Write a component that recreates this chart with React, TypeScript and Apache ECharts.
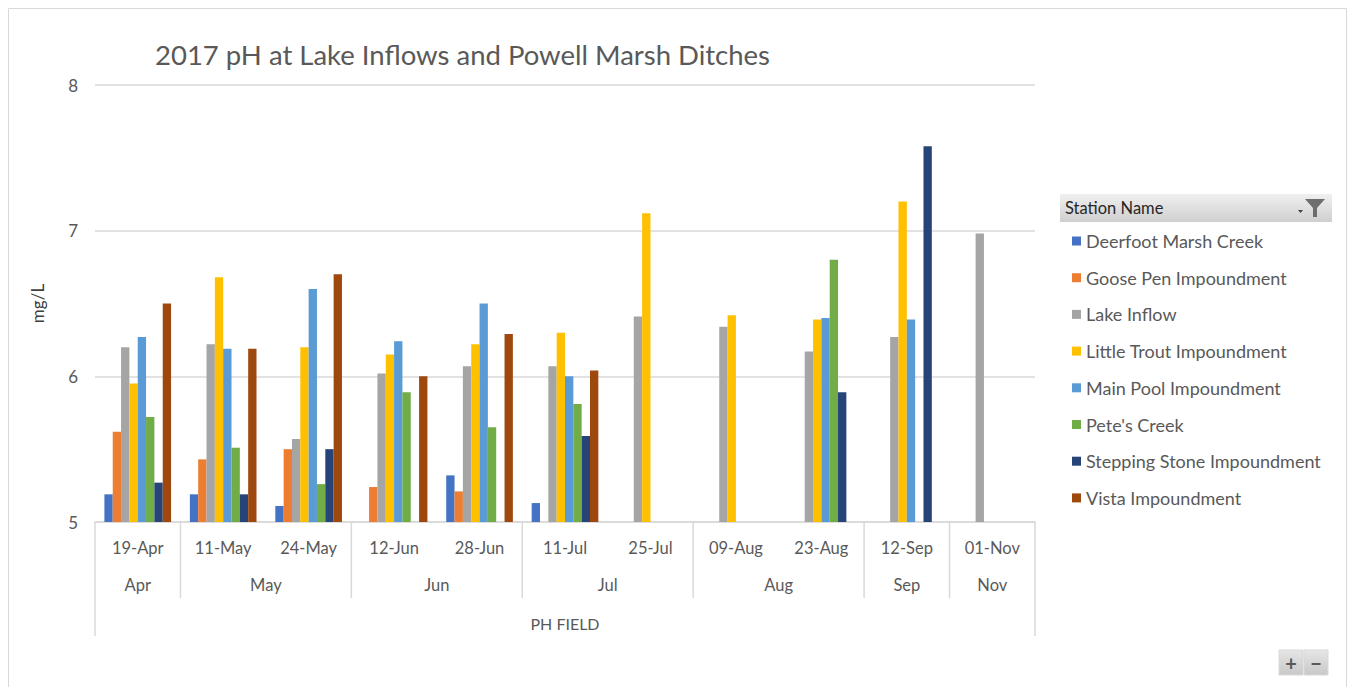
import React, { useEffect, useRef } from "react";
import * as echarts from "echarts";

const dates = ["19-Apr", "11-May", "24-May", "12-Jun", "28-Jun", "11-Jul", "25-Jul", "09-Aug", "23-Aug", "12-Sep", "01-Nov"];
const monthOfDate = ["Apr", "May", "May", "Jun", "Jun", "Jul", "Jul", "Aug", "Aug", "Sep", "Nov"];
const stations = [
  "Deerfoot Marsh Creek",
  "Goose Pen Impoundment",
  "Lake Inflow",
  "Little Trout Impoundment",
  "Main Pool Impoundment",
  "Pete's Creek",
  "Stepping Stone Impoundment",
  "Vista Impoundment",
];
const colors = ["#4472C4", "#ED7D31", "#A5A5A5", "#FFC000", "#5B9BD5", "#70AD47", "#264478", "#9E480E"];

const deerfoot = [5.19, 5.19, 5.11, null, 5.32, 5.13, null, null, null, null, null];
const goosePen = [5.62, 5.43, 5.5, 5.24, 5.21, null, null, null, null, null, null];
const lakeInflow = [6.2, 6.22, 5.57, 6.02, 6.07, 6.07, 6.41, 6.34, 6.17, 6.27, 6.98];
const littleTrout = [5.95, 6.68, 6.2, 6.15, 6.22, 6.3, 7.12, 6.42, 6.39, 7.2, null];
const mainPool = [6.27, 6.19, 6.6, 6.24, 6.5, 6.0, null, null, 6.4, 6.39, null];
const petesCreek = [5.72, 5.51, 5.26, 5.89, 5.65, 5.81, null, null, 6.8, null, null];
const steppingStone = [5.27, 5.19, 5.5, null, null, 5.59, null, null, 5.89, 7.58, null];
const vista = [6.5, 6.19, 6.7, 6.0, 6.29, 6.04, null, null, null, null, null];

const seriesValues = [deerfoot, goosePen, lakeInflow, littleTrout, mainPool, petesCreek, steppingStone, vista];

const FONT = "Lato, 'Open Sans', sans-serif";
const TXT = "#595959";
const LINE = "#d9d9d9";

export default function App() {
  const ref = useRef<HTMLDivElement>(null);
  useEffect(() => {
    if (!ref.current) return;
    const chart = echarts.init(ref.current, undefined, { renderer: "svg" });
    const gridTop = 85;
    const gridBottomY = 522;
    const option: any = {
      animation: false,
      backgroundColor: "#ffffff",
      textStyle: { fontFamily: FONT },
      title: {
        text: "2017 pH at Lake Inflows and Powell Marsh Ditches",
        left: 150,
        top: 35,
        textStyle: { fontFamily: FONT, fontSize: 27.5, fontWeight: "normal", color: TXT },
      },
      grid: { left: 95, right: 315, top: gridTop, bottom: 687 - gridBottomY },
      legend: {
        orient: "vertical",
        left: 1067,
        top: 226,
        itemWidth: 9,
        itemHeight: 9,
        itemGap: 16.7,
        icon: "rect",
        data: stations,
        textStyle: { fontFamily: FONT, fontSize: 18, color: TXT, lineHeight: 20 },
      },
      xAxis: {
        type: "category",
        data: dates,
        axisLine: { lineStyle: { color: LINE, width: 1.5 } },
        axisTick: { show: false },
        axisLabel: { color: TXT, fontSize: 16.5, margin: 17, fontFamily: FONT, interval: 0 },
      },
      yAxis: {
        type: "value",
        min: 5,
        max: 8,
        interval: 1,
        name: "mg/L",
        nameLocation: "middle",
        nameGap: 49,
        nameRotate: 90,
        nameTextStyle: { color: "#404040", fontSize: 17, fontFamily: FONT },
        axisLine: { show: false },
        axisTick: { show: false },
        axisLabel: { color: TXT, fontSize: 17, margin: 17, fontFamily: FONT },
        splitLine: { lineStyle: { color: LINE, width: 1.5 } },
      },
      series: stations.map((name, i) => ({
        name,
        type: "bar",
        data: seriesValues[i],
        barGap: "0%",
        barCategoryGap: "22%",
        itemStyle: { color: colors[i] },
      })),
    };
    chart.setOption(option);

    const cx = (i: number) => chart.convertToPixel({ xAxisIndex: 0 }, dates[i]) as number;
    const band = cx(1) - cx(0);
    const leftB = (i: number) => cx(i) - band / 2;
    const rightB = (i: number) => cx(i) + band / 2;

    const graphics: any[] = [];
    graphics.push({
      type: "rect",
      shape: { x: 8.5, y: 8.5, width: 1338, height: 700 },
      style: { fill: "none", stroke: "#d9d9d9", lineWidth: 1 },
      silent: true,
    });
    const groups: { name: string; start: number; end: number }[] = [];
    monthOfDate.forEach((m, i) => {
      const g = groups[groups.length - 1];
      if (g && g.name === m) g.end = i;
      else groups.push({ name: m, start: i, end: i });
    });
    groups.forEach((g, gi) => {
      const x0 = leftB(g.start);
      const x1 = rightB(g.end);
      if (gi > 0) {
        graphics.push({
          type: "line",
          shape: { x1: x0, y1: gridBottomY, x2: x0, y2: 598 },
          style: { stroke: LINE, lineWidth: 1.5 },
          silent: true,
        });
      }
      graphics.push({
        type: "text",
        x: (x0 + x1) / 2,
        y: 585,
        style: { text: g.name, fill: TXT, font: `16.5px ${FONT}`, align: "center", verticalAlign: "middle" },
        silent: true,
      });
    });
    const xl = leftB(0);
    const xr = rightB(dates.length - 1);
    [xl, xr].forEach((x) =>
      graphics.push({
        type: "line",
        shape: { x1: x, y1: gridBottomY, x2: x, y2: 636 },
        style: { stroke: LINE, lineWidth: 1.5 },
        silent: true,
      })
    );
    graphics.push({
      type: "text",
      x: (xl + xr) / 2,
      y: 623,
      style: { text: "PH FIELD", fill: TXT, font: `16px ${FONT}`, align: "center", verticalAlign: "middle" },
      silent: true,
    });
    graphics.push({
      type: "rect",
      shape: { x: 1060, y: 194, width: 272, height: 28 },
      style: {
        fill: new echarts.graphic.LinearGradient(0, 0, 0, 1, [
          { offset: 0, color: "#f0f0f0" },
          { offset: 1, color: "#cfcfcf" },
        ]),
      },
      silent: true,
    });
    graphics.push({
      type: "text",
      x: 1065,
      y: 208,
      style: { text: "Station Name", fill: "#262626", font: `16.5px ${FONT}`, verticalAlign: "middle" },
      silent: true,
    });
    graphics.push({
      type: "polygon",
      shape: { points: [[1305, 199], [1325, 199], [1317, 208], [1317, 217], [1313, 217], [1313, 208]] },
      style: { fill: "#6e6e6e" },
      silent: true,
    });
    graphics.push({
      type: "polygon",
      shape: { points: [[1298, 210], [1303, 210], [1300.5, 213]] },
      style: { fill: "#404040" },
      silent: true,
    });
    [
      { x: 1279, t: "+" },
      { x: 1304, t: "−" },
    ].forEach((b) => {
      graphics.push({
        type: "rect",
        shape: { x: b.x, y: 650, width: 24, height: 25 },
        style: {
          fill: new echarts.graphic.LinearGradient(0, 0, 0, 1, [
            { offset: 0, color: "#e6e6e6" },
            { offset: 1, color: "#c8c8c8" },
          ]),
          stroke: "#d9d9d9",
        },
        silent: true,
      });
      graphics.push({
        type: "text",
        x: b.x + 12,
        y: 662.5,
        style: { text: b.t, fill: "#595959", font: `bold 20px ${FONT}`, align: "center", verticalAlign: "middle" },
        silent: true,
      });
    });
    chart.setOption({ graphic: graphics });

    return () => chart.dispose();
  }, []);
  return (
    <div
      ref={ref}
      style={{ position: "fixed", left: 0, top: 0, width: 1350, height: 687, background: "#fff" }}
    />
  );
}
